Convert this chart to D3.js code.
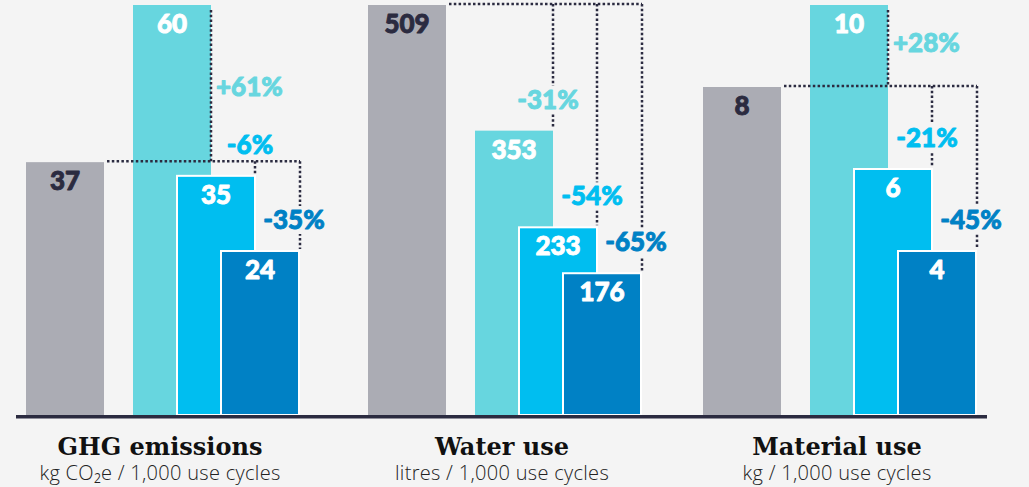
<!DOCTYPE html>
<html>
<head>
<meta charset="utf-8">
<script src="https://cdn.jsdelivr.net/npm/d3@7"></script>
<style>
  body { margin: 0; background: #f4f4f4; }
  svg { display: block; }
</style>
</head>
<body>
<svg id="canvas"></svg>
<script>
// ---------------- data ----------------
let groups = ['GHG emissions', 'Water use', 'Material use']
let units = ['kg CO\u2082e / 1,000 use cycles', 'litres / 1,000 use cycles', 'kg / 1,000 use cycles']

let series = ['base', 'optionA', 'optionB', 'optionC']
let baseValues = [37, 509, 8]
let optionAValues = [60, 353, 10]
let optionBValues = [35, 233, 6]
let optionCValues = [24, 176, 4]

let optionAChange = [61, -31, 28]
let optionBChange = [-6, -54, -21]
let optionCChange = [-35, -65, -45]

let colors = ['#abacb4', '#67d6df', '#00bef0', '#0081c5']
let ink = '#2b2b40'

// ---------------- layout ----------------
let width = 1029
let height = 487
let baseline = 415
let topY = 5
let barW = 78
let boldFont = 'Lato, sans-serif'

let canvas = d3.select('#canvas')
canvas.attr('width', width).attr('height', height)

// groups are not evenly spaced in the original
let xGroup = d3.scaleOrdinal()
    .domain(groups)
    .range([26, 368, 703])

// offset of each bar inside its group: grey alone, the three options overlap
let xInner = d3.scaleOrdinal()
    .domain(series)
    .range([0, 107, 151, 195])

let rows = groups.map((g, i) => {
    let vals = [baseValues[i], optionAValues[i], optionBValues[i], optionCValues[i]]
    let changes = [null, optionAChange[i], optionBChange[i], optionCChange[i]]
    let y = d3.scaleLinear()
        .domain([0, d3.max(vals)])
        .range([baseline, topY])
    return {group: g, unit: units[i], vals: vals, changes: changes, y: y}
})

let fmtPct = (p) => (p > 0 ? '+' : '-') + Math.abs(p) + '%'

// Lato Black is not available, so bold text gets a thin outline in its own colour
let heavy = (sel, color) => sel
    .attr('font-family', boldFont)
    .attr('font-weight', 900)
    .attr('font-size', 26)
    .attr('fill', color)
    .attr('stroke', color)
    .attr('stroke-width', 0.9)
    .attr('stroke-linejoin', 'round')

let drawGroup = (row) => {
    let g = canvas.append('g')
        .attr('transform', 'translate(' + xGroup(row.group) + ',0)')

    let bars = series.map((s, j) => ({
        key: s, j: j, value: row.vals[j], change: row.changes[j],
        x: xInner(s), y: row.y(row.vals[j])
    }))

    g.selectAll('rect.bar')
        .data(bars)
        .enter()
        .append('rect')
        .attr('class', 'bar')
        .attr('x', d => d.x)
        .attr('y', d => d.y)
        .attr('width', barW)
        .attr('height', d => baseline - d.y)
        .attr('fill', d => colors[d.j])
        .attr('stroke', d => d.j >= 2 ? '#ffffff' : 'none')
        .attr('stroke-width', 2)

    bars.forEach(d => {
        g.append('text')
            .attr('x', d.x + barW / 2)
            .attr('y', d.y + 28)
            .attr('text-anchor', 'middle')
            .call(heavy, d.j === 0 ? ink : '#ffffff')
            .text(d.value)
    })

    // dotted reference lines
    let refY = bars[0].y - 1
    let lastX = bars[3].x + barW + 1
    let dots = (x1, y1, x2, y2) => g.append('line')
        .attr('x1', x1).attr('y1', y1).attr('x2', x2).attr('y2', y2)
        .attr('stroke', ink)
        .attr('stroke-width', 2.5)
        .attr('stroke-dasharray', '2.5 2.3')

    dots(bars[0].x + barW + 3, refY, lastX, refY)

    bars.slice(1).forEach(d => {
        let lx = d.x + barW
        if (d.j === 3) lx += 1
        if (d.change > 0) {
            dots(lx, d.y + 5, lx, refY)
        } else {
            dots(lx, refY, lx, d.y - 2)
        }
    })

    // percent labels
    bars.slice(1).forEach(d => {
        let lx = d.x + barW
        let t = g.append('text')
            .call(heavy, colors[d.j])
            .text(fmtPct(d.change))
        if (d.change > 0) {
            t.attr('x', lx + 5)
             .attr('y', d.y + 0.58 * (refY - d.y))
        } else {
            t.attr('x', lx - 5)
             .attr('y', d.y - 22)
             .attr('text-anchor', 'middle')
            let bb = t.node().getBBox()
            g.insert('rect', function () { return t.node() })
                .attr('x', bb.x - 2)
                .attr('y', bb.y + 3)
                .attr('width', bb.width + 4)
                .attr('height', bb.height - 4)
                .attr('fill', '#f4f4f4')
        }
    })

    // category labels under the axis
    let cx = 134
    g.append('text')
        .attr('x', cx)
        .attr('y', 455)
        .attr('text-anchor', 'middle')
        .attr('font-family', '"DejaVu Serif", serif')
        .attr('font-weight', 'bold')
        .attr('font-size', 24)
        .attr('fill', '#111111')
        .text(row.group)

    g.append('text')
        .attr('x', cx)
        .attr('y', 480)
        .attr('text-anchor', 'middle')
        .attr('font-family', '"Open Sans", sans-serif')
        .attr('font-weight', 300)
        .attr('font-size', 20)
        .attr('letter-spacing', 0.3)
        .attr('fill', '#222222')
        .text(row.unit)
}

rows.forEach(drawGroup)

// axis baseline
canvas.append('line')
    .attr('x1', 16)
    .attr('x2', 987)
    .attr('y1', baseline + 1.7)
    .attr('y2', baseline + 1.7)
    .attr('stroke', ink)
    .attr('stroke-width', 3.5)
</script>
</body>
</html>
